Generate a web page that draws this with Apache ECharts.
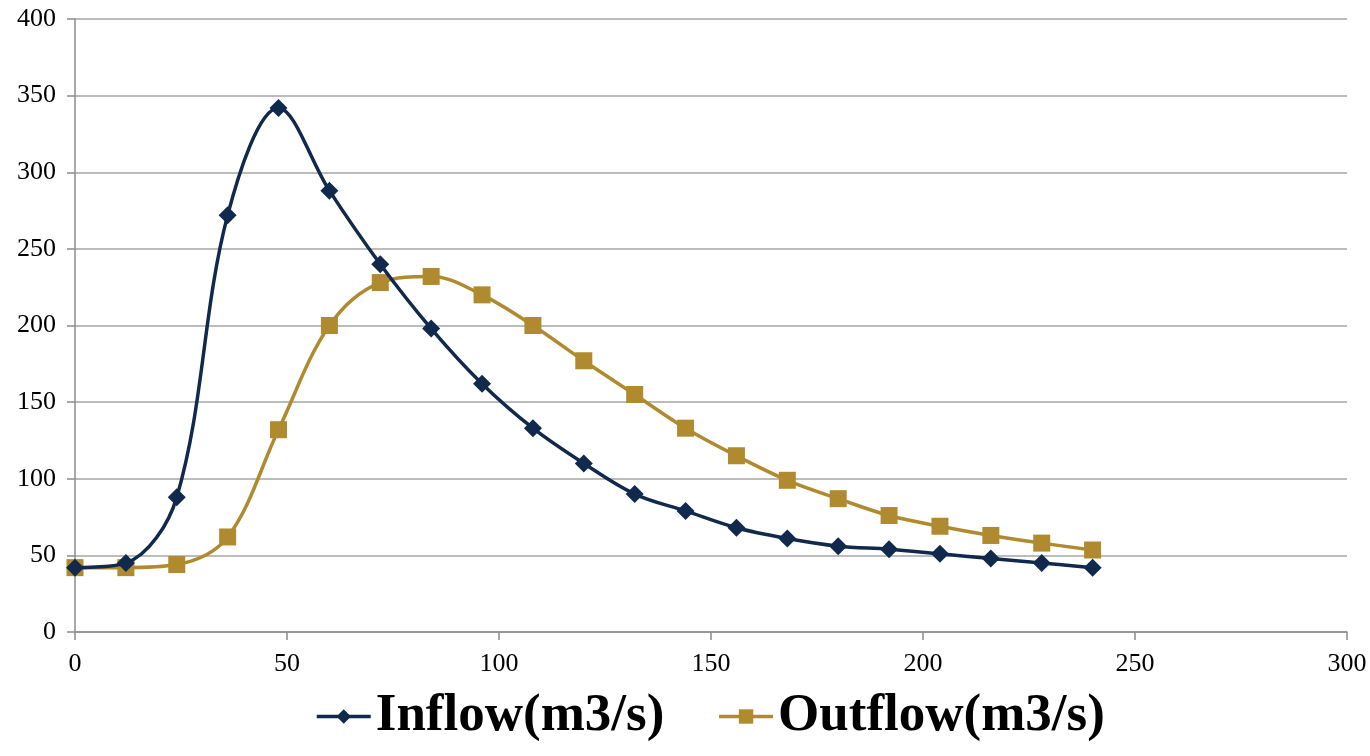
<!DOCTYPE html>
<html><head><meta charset="utf-8">
<script src="https://cdn.jsdelivr.net/npm/echarts@6/dist/echarts.min.js"></script>
<style>html,body{margin:0;padding:0;background:#fff}#c{width:1370px;height:756px}</style>
</head><body><div id="c"></div>
<script>
const hours = [0,12,24,36,48,60,72,84,96,108,120,132,144,156,168,180,192,204,216,228,240];
const inflow = [42,45,88,272,342,288,240,198,162,133,110,90,79,68,61,56,54,51,48,45,42];
const outflow = [42,42,44,62,132,200,228,232,220,200,177,155,133,115,99,87,76,69,63,58,53.5];
const seriesNames = ['Inflow(m3/s)','Outflow(m3/s)'];
const pair = (xs, ys) => xs.map((x,i)=>[x, ys[i]]);
const chart = echarts.init(document.getElementById('c'));
const axisLabel = {fontFamily:'Liberation Serif', fontSize:26, color:'#000'};
chart.setOption({
  animation:false,
  grid:{left:75, right:23, top:19, bottom:124},
  legend:{
    bottom:8, left:310, itemWidth:54, itemHeight:18, itemGap:53,
    lineStyle:{width:3.5},
    textStyle:{fontFamily:'Liberation Serif', fontSize:53, fontWeight:'bold', color:'#000'},
    data:seriesNames
  },
  xAxis:{type:'value', min:0, max:300, interval:50,
    axisLine:{lineStyle:{color:'#8c8c8c', width:1.5}},
    axisTick:{show:true, length:8, lineStyle:{color:'#8c8c8c', width:1.5}},
    splitLine:{show:false},
    axisLabel:Object.assign({margin:19}, axisLabel)},
  yAxis:{type:'value', min:0, max:400, interval:50,
    axisLine:{show:true, lineStyle:{color:'#8c8c8c', width:1.5}},
    axisTick:{show:true, length:8, lineStyle:{color:'#8c8c8c', width:1.5}},
    splitLine:{lineStyle:{color:'#a6a6a6', width:1.5}},
    axisLabel:Object.assign({margin:19}, axisLabel)},
  series:[
    {name:seriesNames[0], type:'line', data:pair(hours, inflow), smooth:0.35,
     symbol:'diamond', symbolSize:18, color:'#10294d',
     lineStyle:{width:3.5, color:'#10294d'}, itemStyle:{color:'#10294d'}, z:3},
    {name:seriesNames[1], type:'line', data:pair(hours, outflow), smooth:0.35,
     symbol:'rect', symbolSize:17, color:'#b08a2e',
     lineStyle:{width:3.5, color:'#b08a2e'}, itemStyle:{color:'#b08a2e'}, z:2}
  ]
});
</script></body></html>
